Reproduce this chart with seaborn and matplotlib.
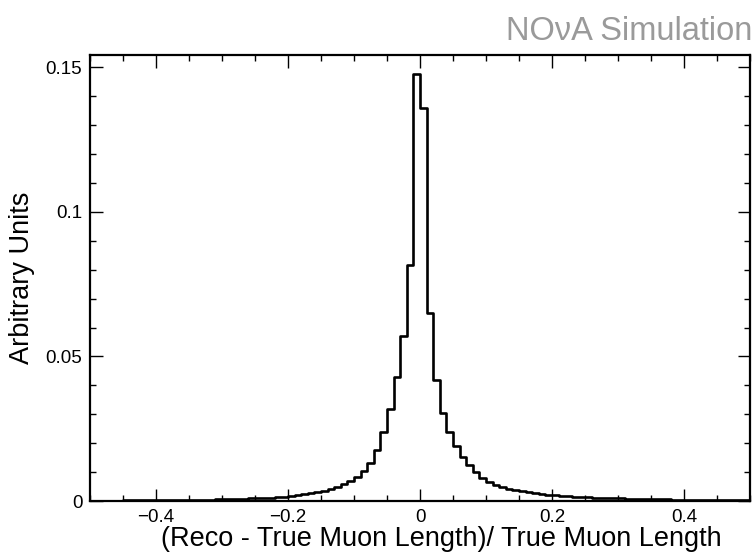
import numpy as np
import pandas as pd
import matplotlib
matplotlib.use("Agg")
import matplotlib.pyplot as plt
import seaborn as sns
from matplotlib.ticker import MultipleLocator

# bin edges: -0.5 .. 0.5 in steps of 0.01 (100 bins)
bin_lo = -0.5
bin_hi = 0.5
bin_width = 0.01

# heights, bins from -0.50 upward
heights_neg = [
    0.0001, 0.0001, 0.0001, 0.0001, 0.0001, 0.0002, 0.0002, 0.0002, 0.0002, 0.0002,
    0.0003, 0.0003, 0.0003, 0.0003, 0.0004, 0.0004, 0.0004, 0.0005, 0.0005, 0.0006,
    0.0006, 0.0007, 0.0007, 0.0008, 0.0009, 0.0010, 0.0011, 0.0012, 0.0014, 0.0015,
    0.0017, 0.0020, 0.0023, 0.0027, 0.0031, 0.0036, 0.0042, 0.0048, 0.0058, 0.0070,
    0.0084, 0.0105, 0.0131, 0.0176, 0.0240, 0.0317, 0.0428, 0.0571, 0.0817, 0.1478,
]
heights_pos = [
    0.1360, 0.0652, 0.0419, 0.0303, 0.0240, 0.0190, 0.0151, 0.0123, 0.0099, 0.0080,
    0.0066, 0.0056, 0.0048, 0.0042, 0.0037, 0.0033, 0.0030, 0.0027, 0.0024, 0.0022,
    0.0020, 0.0018, 0.0017, 0.0015, 0.0014, 0.0013, 0.0012, 0.0011, 0.0010, 0.0009,
    0.0009, 0.0008, 0.0008, 0.0007, 0.0007, 0.0006, 0.0006, 0.0006, 0.0005, 0.0005,
    0.0005, 0.0004, 0.0004, 0.0004, 0.0004, 0.0003, 0.0003, 0.0003, 0.0003, 0.0003,
]

x_ticks = [-0.4, -0.2, 0, 0.2, 0.4]
x_ticklabels = ["\u22120.4", "\u22120.2", "0", "0.2", "0.4"]
y_ticks = [0, 0.05, 0.1, 0.15]
y_ticklabels = ["0", "0.05", "0.1", "0.15"]

xlabel = "(Reco - True Muon Length)/ True Muon Length"
ylabel = "Arbitrary Units"
banner = "NO\u03bdA Simulation"

heights = heights_neg + heights_pos
n_bins = len(heights)
edges = [round(bin_lo + i * bin_width, 4) for i in range(n_bins + 1)]
centers = [(edges[i] + edges[i + 1]) / 2 for i in range(n_bins)]
df = pd.DataFrame({"x": centers, "w": heights})

sns.set_style("ticks")
plt.rcParams["font.family"] = ["Liberation Sans", "DejaVu Sans"]

fig = plt.figure(figsize=(7.56, 5.56), dpi=100)
W, H = 756, 556
ax = fig.add_axes([90 / W, (H - 501) / H, 660 / W, 446 / H])

sns.histplot(data=df, x="x", weights="w", bins=edges, element="step", fill=False,
             color="black", linewidth=1.9, ax=ax)

ax.set_xlim(bin_lo, bin_hi)
ax.set_ylim(0, 0.1543)
ax.set_xticks(x_ticks)
ax.set_xticklabels(x_ticklabels)
ax.set_yticks(y_ticks)
ax.set_yticklabels(y_ticklabels)
ax.xaxis.set_minor_locator(MultipleLocator(0.05))
ax.yaxis.set_minor_locator(MultipleLocator(0.01))
ax.tick_params(which="both", direction="in", top=True, right=True, width=1.0, color="black",
               labelsize=13.5, labelcolor="black")
ax.tick_params(which="major", length=9, pad=5.5)
ax.tick_params(which="minor", length=4.5)
for s in ax.spines.values():
    s.set_linewidth(1.6)
    s.set_color("black")

ax.set_xlabel("")
ax.set_ylabel("")
fig.text(441 / W, 1 - 539 / H, xlabel, ha="center", va="center", fontsize=19.5, color="black")
fig.text(22 / W, 1 - 278 / H, ylabel, ha="center", va="center", rotation=90, fontsize=19.5,
         color="black")
fig.text(752 / W, 1 - 31 / H, banner, ha="right", va="center", fontsize=23.5, color="#9a9a9a")

fig.savefig("out.png", dpi=100)
